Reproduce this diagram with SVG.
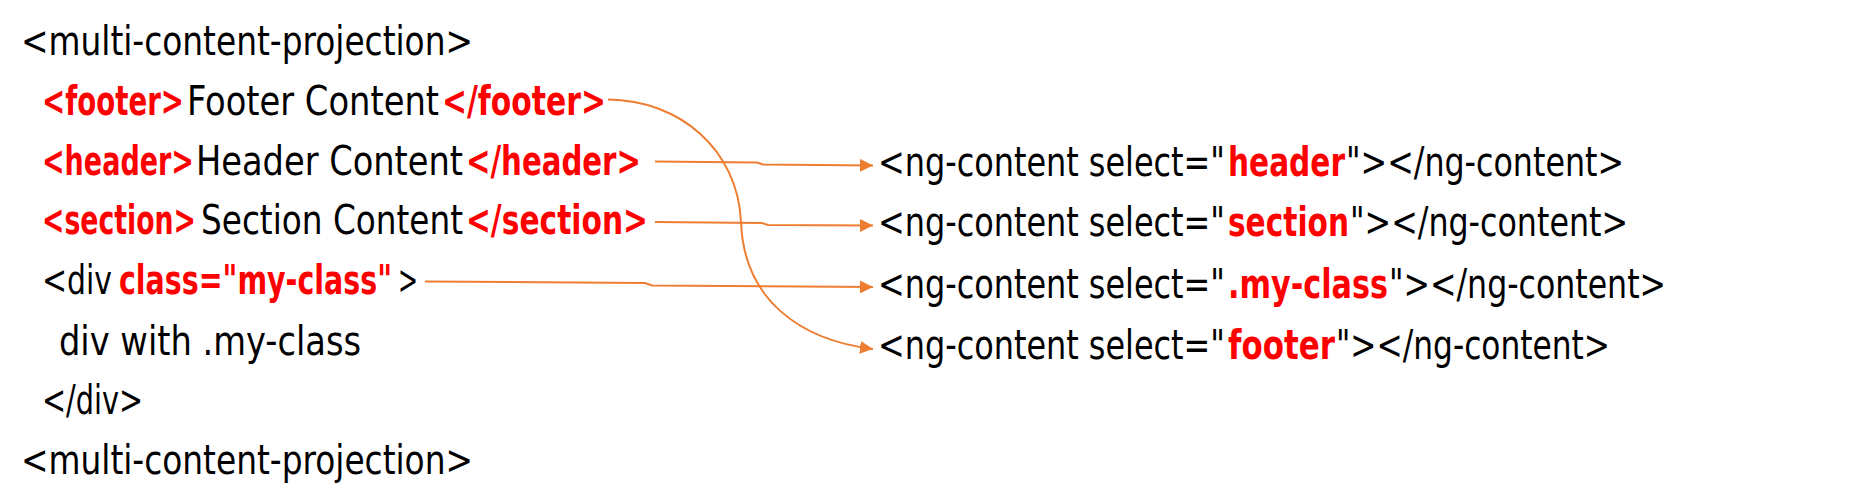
<svg xmlns="http://www.w3.org/2000/svg" width="1862" height="503" viewBox="0 0 1862 503">
<style>
text{font-family:"DejaVu Sans Condensed","DejaVu Sans","Liberation Sans",sans-serif;font-size:40px;fill:#000}
.r{fill:#FF0000;font-weight:bold}
.c{fill:none;stroke:#ED7D31;stroke-width:2}
</style>
<defs>
<marker id="ah" markerUnits="userSpaceOnUse" markerWidth="14" markerHeight="13" refX="13" refY="6.5" orient="auto">
<path d="M0,0 L13,6.5 L0,13 z" fill="#ED7D31"/>
</marker>
</defs>
<rect width="1862" height="503" fill="#fff"/>
<g id="left">
<g id="open"><text transform="scale(0.72,1)" x="29.17" y="55" textLength="627.78" lengthAdjust="spacingAndGlyphs">&lt;multi-content-projection&gt;</text></g>
<g id="footer-src"><text transform="scale(0.72,1)" y="115"><tspan class="r" x="58.33" textLength="197.22" lengthAdjust="spacingAndGlyphs">&lt;footer&gt;</tspan><tspan x="259.72" textLength="350" lengthAdjust="spacingAndGlyphs">Footer Content</tspan><tspan class="r" x="613.89" textLength="227.78" lengthAdjust="spacingAndGlyphs">&lt;/footer&gt;</tspan></text></g>
<g id="header-src"><text transform="scale(0.72,1)" y="175"><tspan class="r" x="58.33" textLength="211.11" lengthAdjust="spacingAndGlyphs">&lt;header&gt;</tspan><tspan x="272.22" textLength="370.83" lengthAdjust="spacingAndGlyphs">Header Content</tspan><tspan class="r" x="647.22" textLength="243.06" lengthAdjust="spacingAndGlyphs">&lt;/header&gt;</tspan></text></g>
<g id="section-src"><text transform="scale(0.72,1)" y="234"><tspan class="r" x="58.33" textLength="213.89" lengthAdjust="spacingAndGlyphs">&lt;section&gt;</tspan><tspan x="279.17" textLength="363.89" lengthAdjust="spacingAndGlyphs">Section Content</tspan><tspan class="r" x="647.22" textLength="252.78" lengthAdjust="spacingAndGlyphs">&lt;/section&gt;</tspan></text></g>
<g id="div-src"><text transform="scale(0.72,1)" y="294"><tspan x="58.33" textLength="97.22" lengthAdjust="spacingAndGlyphs">&lt;div</tspan><tspan class="r" x="165.28" textLength="379.17" lengthAdjust="spacingAndGlyphs">class="my-class"</tspan><tspan x="552.78" textLength="27.78" lengthAdjust="spacingAndGlyphs">&gt;</tspan></text></g>
<g id="div-body"><text transform="scale(0.72,1)" x="81.94" y="355" textLength="419.44" lengthAdjust="spacingAndGlyphs">div with .my-class</text></g>
<g id="div-close"><text transform="scale(0.72,1)" x="58.33" y="414" textLength="140.28" lengthAdjust="spacingAndGlyphs">&lt;/div&gt;</text></g>
<g id="close"><text transform="scale(0.72,1)" x="29.17" y="474" textLength="627.78" lengthAdjust="spacingAndGlyphs">&lt;multi-content-projection&gt;</text></g>
</g>
<g id="right">
<g id="ng-header"><text transform="scale(0.72,1)" y="176"><tspan x="1219.44" textLength="481.94" lengthAdjust="spacingAndGlyphs">&lt;ng-content select="</tspan><tspan class="r" x="1705.56" textLength="162.5" lengthAdjust="spacingAndGlyphs">header</tspan><tspan x="1869.44" textLength="386.11" lengthAdjust="spacingAndGlyphs">"&gt;&lt;/ng-content&gt;</tspan></text></g>
<g id="ng-section"><text transform="scale(0.72,1)" y="236"><tspan x="1219.44" textLength="481.94" lengthAdjust="spacingAndGlyphs">&lt;ng-content select="</tspan><tspan class="r" x="1705.56" textLength="168.06" lengthAdjust="spacingAndGlyphs">section</tspan><tspan x="1875" textLength="386.11" lengthAdjust="spacingAndGlyphs">"&gt;&lt;/ng-content&gt;</tspan></text></g>
<g id="ng-myclass"><text transform="scale(0.72,1)" y="298"><tspan x="1219.44" textLength="481.94" lengthAdjust="spacingAndGlyphs">&lt;ng-content select="</tspan><tspan class="r" x="1705.56" textLength="222.22" lengthAdjust="spacingAndGlyphs">.my-class</tspan><tspan x="1929.17" textLength="384.72" lengthAdjust="spacingAndGlyphs">"&gt;&lt;/ng-content&gt;</tspan></text></g>
<g id="ng-footer"><text transform="scale(0.72,1)" y="359"><tspan x="1219.44" textLength="481.94" lengthAdjust="spacingAndGlyphs">&lt;ng-content select="</tspan><tspan class="r" x="1705.56" textLength="148.61" lengthAdjust="spacingAndGlyphs">footer</tspan><tspan x="1855.56" textLength="380.56" lengthAdjust="spacingAndGlyphs">"&gt;&lt;/ng-content&gt;</tspan></text></g>
</g>
<g id="connectors">
<path class="c" d="M655,161.5 L757,162.5 L763,164.5 L873,165.5" marker-end="url(#ah)"/>
<path class="c" d="M655,222 L762,223 L768,225 L873,225.5" marker-end="url(#ah)"/>
<path class="c" d="M425,281.5 L645,283 L652,285.5 L873,287" marker-end="url(#ah)"/>
<path class="c" d="M608,99.5 C680,100 738,150 741,222 C744,300 800,340 873,349" marker-end="url(#ah)"/>
</g>
</svg>
